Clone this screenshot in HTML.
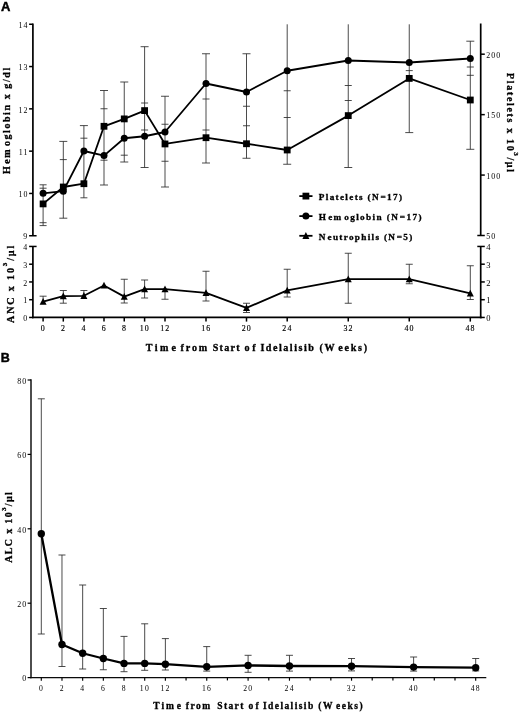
<!DOCTYPE html>
<html><head><meta charset="utf-8"><title>Figure</title>
<style>
html,body{margin:0;padding:0;background:#fff;}
svg{display:block;filter:grayscale(1);}
</style></head>
<body>
<svg width="520" height="712" viewBox="0 0 520 712">
<rect x="0" y="0" width="520" height="712" fill="#fff"/>
<line x1="43.1" y1="184.8" x2="43.1" y2="225.6" stroke="#2a2a2a" stroke-width="0.85"/>
<line x1="39.6" y1="184.8" x2="46.6" y2="184.8" stroke="#2a2a2a" stroke-width="0.85"/>
<line x1="39.6" y1="188.2" x2="46.6" y2="188.2" stroke="#2a2a2a" stroke-width="0.85"/>
<line x1="39.6" y1="222.7" x2="46.6" y2="222.7" stroke="#2a2a2a" stroke-width="0.85"/>
<line x1="39.6" y1="225.6" x2="46.6" y2="225.6" stroke="#2a2a2a" stroke-width="0.85"/>
<line x1="63.3" y1="141.4" x2="63.3" y2="218.2" stroke="#2a2a2a" stroke-width="0.85"/>
<line x1="59.3" y1="141.4" x2="67.3" y2="141.4" stroke="#2a2a2a" stroke-width="0.85"/>
<line x1="59.8" y1="159.6" x2="66.8" y2="159.6" stroke="#2a2a2a" stroke-width="0.85"/>
<line x1="59.3" y1="218.2" x2="67.3" y2="218.2" stroke="#2a2a2a" stroke-width="0.85"/>
<line x1="83.9" y1="125.6" x2="83.9" y2="197.8" stroke="#2a2a2a" stroke-width="0.85"/>
<line x1="79.9" y1="125.6" x2="87.9" y2="125.6" stroke="#2a2a2a" stroke-width="0.85"/>
<line x1="80.4" y1="138.2" x2="87.4" y2="138.2" stroke="#2a2a2a" stroke-width="0.85"/>
<line x1="80.4" y1="197.8" x2="87.4" y2="197.8" stroke="#2a2a2a" stroke-width="0.85"/>
<line x1="104.0" y1="90.5" x2="104.0" y2="185" stroke="#2a2a2a" stroke-width="0.85"/>
<line x1="100.0" y1="90.5" x2="108.0" y2="90.5" stroke="#2a2a2a" stroke-width="0.85"/>
<line x1="100.5" y1="108.75" x2="107.5" y2="108.75" stroke="#2a2a2a" stroke-width="0.85"/>
<line x1="100.5" y1="160.2" x2="107.5" y2="160.2" stroke="#2a2a2a" stroke-width="0.85"/>
<line x1="100.0" y1="185" x2="108.0" y2="185" stroke="#2a2a2a" stroke-width="0.85"/>
<line x1="124.25" y1="82" x2="124.25" y2="162" stroke="#2a2a2a" stroke-width="0.85"/>
<line x1="120.25" y1="82" x2="128.25" y2="82" stroke="#2a2a2a" stroke-width="0.85"/>
<line x1="120.75" y1="155.2" x2="127.75" y2="155.2" stroke="#2a2a2a" stroke-width="0.85"/>
<line x1="120.25" y1="162" x2="128.25" y2="162" stroke="#2a2a2a" stroke-width="0.85"/>
<line x1="144.6" y1="46.7" x2="144.6" y2="167.5" stroke="#2a2a2a" stroke-width="0.85"/>
<line x1="140.6" y1="46.7" x2="148.6" y2="46.7" stroke="#2a2a2a" stroke-width="0.85"/>
<line x1="141.1" y1="103" x2="148.1" y2="103" stroke="#2a2a2a" stroke-width="0.85"/>
<line x1="141.1" y1="130" x2="148.1" y2="130" stroke="#2a2a2a" stroke-width="0.85"/>
<line x1="140.6" y1="167.5" x2="148.6" y2="167.5" stroke="#2a2a2a" stroke-width="0.85"/>
<line x1="165.0" y1="96.25" x2="165.0" y2="187" stroke="#2a2a2a" stroke-width="0.85"/>
<line x1="161.0" y1="96.25" x2="169.0" y2="96.25" stroke="#2a2a2a" stroke-width="0.85"/>
<line x1="161.5" y1="124.25" x2="168.5" y2="124.25" stroke="#2a2a2a" stroke-width="0.85"/>
<line x1="161.5" y1="161.25" x2="168.5" y2="161.25" stroke="#2a2a2a" stroke-width="0.85"/>
<line x1="161.0" y1="187" x2="169.0" y2="187" stroke="#2a2a2a" stroke-width="0.85"/>
<line x1="206.0" y1="53.75" x2="206.0" y2="163" stroke="#2a2a2a" stroke-width="0.85"/>
<line x1="202.0" y1="53.75" x2="210.0" y2="53.75" stroke="#2a2a2a" stroke-width="0.85"/>
<line x1="202.5" y1="99" x2="209.5" y2="99" stroke="#2a2a2a" stroke-width="0.85"/>
<line x1="202.5" y1="130" x2="209.5" y2="130" stroke="#2a2a2a" stroke-width="0.85"/>
<line x1="202.0" y1="163" x2="210.0" y2="163" stroke="#2a2a2a" stroke-width="0.85"/>
<line x1="246.5" y1="53.75" x2="246.5" y2="158.25" stroke="#2a2a2a" stroke-width="0.85"/>
<line x1="242.5" y1="53.75" x2="250.5" y2="53.75" stroke="#2a2a2a" stroke-width="0.85"/>
<line x1="243.0" y1="106.25" x2="250.0" y2="106.25" stroke="#2a2a2a" stroke-width="0.85"/>
<line x1="243.0" y1="125.75" x2="250.0" y2="125.75" stroke="#2a2a2a" stroke-width="0.85"/>
<line x1="242.5" y1="158.25" x2="250.5" y2="158.25" stroke="#2a2a2a" stroke-width="0.85"/>
<line x1="287.2" y1="24.3" x2="287.2" y2="164.25" stroke="#2a2a2a" stroke-width="0.85"/>
<line x1="283.7" y1="90.75" x2="290.7" y2="90.75" stroke="#2a2a2a" stroke-width="0.85"/>
<line x1="283.7" y1="117.5" x2="290.7" y2="117.5" stroke="#2a2a2a" stroke-width="0.85"/>
<line x1="283.2" y1="164.25" x2="291.2" y2="164.25" stroke="#2a2a2a" stroke-width="0.85"/>
<line x1="348.25" y1="24.3" x2="348.25" y2="167.5" stroke="#2a2a2a" stroke-width="0.85"/>
<line x1="344.75" y1="85.5" x2="351.75" y2="85.5" stroke="#2a2a2a" stroke-width="0.85"/>
<line x1="344.75" y1="100.5" x2="351.75" y2="100.5" stroke="#2a2a2a" stroke-width="0.85"/>
<line x1="344.25" y1="167.5" x2="352.25" y2="167.5" stroke="#2a2a2a" stroke-width="0.85"/>
<line x1="409.25" y1="24.3" x2="409.25" y2="132.6" stroke="#2a2a2a" stroke-width="0.85"/>
<line x1="405.75" y1="70.6" x2="412.75" y2="70.6" stroke="#2a2a2a" stroke-width="0.85"/>
<line x1="405.25" y1="132.6" x2="413.25" y2="132.6" stroke="#2a2a2a" stroke-width="0.85"/>
<line x1="470.3" y1="41.2" x2="470.3" y2="149.3" stroke="#2a2a2a" stroke-width="0.85"/>
<line x1="466.3" y1="41.2" x2="474.3" y2="41.2" stroke="#2a2a2a" stroke-width="0.85"/>
<line x1="466.8" y1="67" x2="473.8" y2="67" stroke="#2a2a2a" stroke-width="0.85"/>
<line x1="466.8" y1="75.3" x2="473.8" y2="75.3" stroke="#2a2a2a" stroke-width="0.85"/>
<line x1="466.3" y1="149.3" x2="474.3" y2="149.3" stroke="#2a2a2a" stroke-width="0.85"/>
<line x1="43.1" y1="296.2" x2="43.1" y2="301.5" stroke="#2a2a2a" stroke-width="0.85"/>
<line x1="39.6" y1="296.2" x2="46.6" y2="296.2" stroke="#2a2a2a" stroke-width="0.85"/>
<line x1="63.3" y1="290.5" x2="63.3" y2="303.2" stroke="#2a2a2a" stroke-width="0.85"/>
<line x1="59.8" y1="290.5" x2="66.8" y2="290.5" stroke="#2a2a2a" stroke-width="0.85"/>
<line x1="59.8" y1="303.2" x2="66.8" y2="303.2" stroke="#2a2a2a" stroke-width="0.85"/>
<line x1="83.9" y1="290.5" x2="83.9" y2="297.5" stroke="#2a2a2a" stroke-width="0.85"/>
<line x1="80.4" y1="290.5" x2="87.4" y2="290.5" stroke="#2a2a2a" stroke-width="0.85"/>
<line x1="124.25" y1="279.25" x2="124.25" y2="303" stroke="#2a2a2a" stroke-width="0.85"/>
<line x1="120.75" y1="279.25" x2="127.75" y2="279.25" stroke="#2a2a2a" stroke-width="0.85"/>
<line x1="120.75" y1="303" x2="127.75" y2="303" stroke="#2a2a2a" stroke-width="0.85"/>
<line x1="144.6" y1="280" x2="144.6" y2="298" stroke="#2a2a2a" stroke-width="0.85"/>
<line x1="141.1" y1="280" x2="148.1" y2="280" stroke="#2a2a2a" stroke-width="0.85"/>
<line x1="141.1" y1="298" x2="148.1" y2="298" stroke="#2a2a2a" stroke-width="0.85"/>
<line x1="165.0" y1="288.75" x2="165.0" y2="299.25" stroke="#2a2a2a" stroke-width="0.85"/>
<line x1="161.5" y1="299.25" x2="168.5" y2="299.25" stroke="#2a2a2a" stroke-width="0.85"/>
<line x1="206.0" y1="271.25" x2="206.0" y2="301" stroke="#2a2a2a" stroke-width="0.85"/>
<line x1="202.5" y1="271.25" x2="209.5" y2="271.25" stroke="#2a2a2a" stroke-width="0.85"/>
<line x1="202.5" y1="301" x2="209.5" y2="301" stroke="#2a2a2a" stroke-width="0.85"/>
<line x1="246.5" y1="303.25" x2="246.5" y2="312.5" stroke="#2a2a2a" stroke-width="0.85"/>
<line x1="243.0" y1="303.25" x2="250.0" y2="303.25" stroke="#2a2a2a" stroke-width="0.85"/>
<line x1="243.0" y1="312.5" x2="250.0" y2="312.5" stroke="#2a2a2a" stroke-width="0.85"/>
<line x1="287.2" y1="269.25" x2="287.2" y2="297" stroke="#2a2a2a" stroke-width="0.85"/>
<line x1="283.7" y1="269.25" x2="290.7" y2="269.25" stroke="#2a2a2a" stroke-width="0.85"/>
<line x1="283.7" y1="297" x2="290.7" y2="297" stroke="#2a2a2a" stroke-width="0.85"/>
<line x1="348.25" y1="253.25" x2="348.25" y2="303.25" stroke="#2a2a2a" stroke-width="0.85"/>
<line x1="344.75" y1="253.25" x2="351.75" y2="253.25" stroke="#2a2a2a" stroke-width="0.85"/>
<line x1="344.75" y1="303.25" x2="351.75" y2="303.25" stroke="#2a2a2a" stroke-width="0.85"/>
<line x1="409.25" y1="264.25" x2="409.25" y2="283.75" stroke="#2a2a2a" stroke-width="0.85"/>
<line x1="405.75" y1="264.25" x2="412.75" y2="264.25" stroke="#2a2a2a" stroke-width="0.85"/>
<line x1="405.75" y1="283.75" x2="412.75" y2="283.75" stroke="#2a2a2a" stroke-width="0.85"/>
<line x1="470.3" y1="265.75" x2="470.3" y2="299.5" stroke="#2a2a2a" stroke-width="0.85"/>
<line x1="466.8" y1="265.75" x2="473.8" y2="265.75" stroke="#2a2a2a" stroke-width="0.85"/>
<line x1="466.8" y1="299.5" x2="473.8" y2="299.5" stroke="#2a2a2a" stroke-width="0.85"/>
<line x1="32.9" y1="23.5" x2="32.9" y2="235.9" stroke="#000" stroke-width="1.7"/>
<line x1="32.9" y1="246.5" x2="32.9" y2="318.3" stroke="#000" stroke-width="1.7"/>
<line x1="480.7" y1="23.5" x2="480.7" y2="235.5" stroke="#000" stroke-width="1.7"/>
<line x1="480.7" y1="246.4" x2="480.7" y2="318.3" stroke="#000" stroke-width="1.7"/>
<line x1="32.05" y1="317.45" x2="481.55" y2="317.45" stroke="#000" stroke-width="1.7"/>
<line x1="29.1" y1="24.25" x2="32.9" y2="24.25" stroke="#000" stroke-width="1.5"/>
<text x="28.5" y="27.95" font-family='"Liberation Serif","DejaVu Serif",serif' font-size="7.9" text-anchor="end" letter-spacing="1.1" >14</text>
<line x1="29.1" y1="66.55000000000001" x2="32.9" y2="66.55000000000001" stroke="#000" stroke-width="1.5"/>
<text x="28.5" y="70.25000000000001" font-family='"Liberation Serif","DejaVu Serif",serif' font-size="7.9" text-anchor="end" letter-spacing="1.1" >13</text>
<line x1="29.1" y1="108.85000000000001" x2="32.9" y2="108.85000000000001" stroke="#000" stroke-width="1.5"/>
<text x="28.5" y="112.55000000000001" font-family='"Liberation Serif","DejaVu Serif",serif' font-size="7.9" text-anchor="end" letter-spacing="1.1" >12</text>
<line x1="29.1" y1="151.15" x2="32.9" y2="151.15" stroke="#000" stroke-width="1.5"/>
<text x="28.5" y="154.85" font-family='"Liberation Serif","DejaVu Serif",serif' font-size="7.9" text-anchor="end" letter-spacing="1.1" >11</text>
<line x1="29.1" y1="193.45" x2="32.9" y2="193.45" stroke="#000" stroke-width="1.5"/>
<text x="28.5" y="197.14999999999998" font-family='"Liberation Serif","DejaVu Serif",serif' font-size="7.9" text-anchor="end" letter-spacing="1.1" >10</text>
<line x1="29.1" y1="235.75" x2="36.6" y2="235.75" stroke="#000" stroke-width="1.5"/>
<text x="27.1" y="239.45" font-family='"Liberation Serif","DejaVu Serif",serif' font-size="7.9" text-anchor="end" >9</text>
<line x1="29.1" y1="246.45" x2="36.6" y2="246.45" stroke="#000" stroke-width="1.5"/>
<text x="27.1" y="250.14999999999998" font-family='"Liberation Serif","DejaVu Serif",serif' font-size="7.9" text-anchor="end" >4</text>
<line x1="29.1" y1="264.2" x2="32.9" y2="264.2" stroke="#000" stroke-width="1.5"/>
<text x="27.1" y="267.9" font-family='"Liberation Serif","DejaVu Serif",serif' font-size="7.9" text-anchor="end" >3</text>
<line x1="29.1" y1="281.95" x2="32.9" y2="281.95" stroke="#000" stroke-width="1.5"/>
<text x="27.1" y="285.65" font-family='"Liberation Serif","DejaVu Serif",serif' font-size="7.9" text-anchor="end" >2</text>
<line x1="29.1" y1="299.7" x2="32.9" y2="299.7" stroke="#000" stroke-width="1.5"/>
<text x="27.1" y="303.4" font-family='"Liberation Serif","DejaVu Serif",serif' font-size="7.9" text-anchor="end" >1</text>
<line x1="29.1" y1="317.45" x2="32.9" y2="317.45" stroke="#000" stroke-width="1.5"/>
<text x="27.1" y="321.15" font-family='"Liberation Serif","DejaVu Serif",serif' font-size="7.9" text-anchor="end" >0</text>
<line x1="480.7" y1="54.19499999999999" x2="484.8" y2="54.19499999999999" stroke="#000" stroke-width="1.5"/>
<text x="486.2" y="57.894999999999996" font-family='"Liberation Serif","DejaVu Serif",serif' font-size="7.9" letter-spacing="1.1" >200</text>
<line x1="480.7" y1="114.63" x2="484.8" y2="114.63" stroke="#000" stroke-width="1.5"/>
<text x="486.2" y="118.33" font-family='"Liberation Serif","DejaVu Serif",serif' font-size="7.9" letter-spacing="1.1" >150</text>
<line x1="480.7" y1="175.065" x2="484.8" y2="175.065" stroke="#000" stroke-width="1.5"/>
<text x="486.2" y="178.765" font-family='"Liberation Serif","DejaVu Serif",serif' font-size="7.9" letter-spacing="1.1" >100</text>
<line x1="477.3" y1="235.5" x2="484.8" y2="235.5" stroke="#000" stroke-width="1.5"/>
<text x="486.2" y="239.2" font-family='"Liberation Serif","DejaVu Serif",serif' font-size="7.9" letter-spacing="1.1" >50</text>
<line x1="477.3" y1="246.45" x2="484.8" y2="246.45" stroke="#000" stroke-width="1.5"/>
<text x="486.2" y="250.14999999999998" font-family='"Liberation Serif","DejaVu Serif",serif' font-size="8.5" >4</text>
<line x1="480.7" y1="264.2" x2="484.8" y2="264.2" stroke="#000" stroke-width="1.5"/>
<text x="486.2" y="267.9" font-family='"Liberation Serif","DejaVu Serif",serif' font-size="8.5" >3</text>
<line x1="480.7" y1="281.95" x2="484.8" y2="281.95" stroke="#000" stroke-width="1.5"/>
<text x="486.2" y="285.65" font-family='"Liberation Serif","DejaVu Serif",serif' font-size="8.5" >2</text>
<line x1="480.7" y1="299.7" x2="484.8" y2="299.7" stroke="#000" stroke-width="1.5"/>
<text x="486.2" y="303.4" font-family='"Liberation Serif","DejaVu Serif",serif' font-size="8.5" >1</text>
<line x1="480.7" y1="317.45" x2="484.8" y2="317.45" stroke="#000" stroke-width="1.5"/>
<text x="486.2" y="321.15" font-family='"Liberation Serif","DejaVu Serif",serif' font-size="8.5" >0</text>
<line x1="43.1" y1="317.45" x2="43.1" y2="321.6" stroke="#000" stroke-width="1.5"/>
<text x="43.300000000000004" y="331.3" font-family='"Liberation Serif","DejaVu Serif",serif' font-size="7.9" text-anchor="middle" letter-spacing="1.1" stroke="#000" stroke-width="0.15">0</text>
<line x1="63.3" y1="317.45" x2="63.3" y2="321.6" stroke="#000" stroke-width="1.5"/>
<text x="63.5" y="331.3" font-family='"Liberation Serif","DejaVu Serif",serif' font-size="7.9" text-anchor="middle" letter-spacing="1.1" stroke="#000" stroke-width="0.15">2</text>
<line x1="83.9" y1="317.45" x2="83.9" y2="321.6" stroke="#000" stroke-width="1.5"/>
<text x="84.10000000000001" y="331.3" font-family='"Liberation Serif","DejaVu Serif",serif' font-size="7.9" text-anchor="middle" letter-spacing="1.1" stroke="#000" stroke-width="0.15">4</text>
<line x1="104.0" y1="317.45" x2="104.0" y2="321.6" stroke="#000" stroke-width="1.5"/>
<text x="104.2" y="331.3" font-family='"Liberation Serif","DejaVu Serif",serif' font-size="7.9" text-anchor="middle" letter-spacing="1.1" stroke="#000" stroke-width="0.15">6</text>
<line x1="124.25" y1="317.45" x2="124.25" y2="321.6" stroke="#000" stroke-width="1.5"/>
<text x="124.45" y="331.3" font-family='"Liberation Serif","DejaVu Serif",serif' font-size="7.9" text-anchor="middle" letter-spacing="1.1" stroke="#000" stroke-width="0.15">8</text>
<line x1="144.6" y1="317.45" x2="144.6" y2="321.6" stroke="#000" stroke-width="1.5"/>
<text x="144.79999999999998" y="331.3" font-family='"Liberation Serif","DejaVu Serif",serif' font-size="7.9" text-anchor="middle" letter-spacing="1.1" stroke="#000" stroke-width="0.15">10</text>
<line x1="165.0" y1="317.45" x2="165.0" y2="321.6" stroke="#000" stroke-width="1.5"/>
<text x="165.2" y="331.3" font-family='"Liberation Serif","DejaVu Serif",serif' font-size="7.9" text-anchor="middle" letter-spacing="1.1" stroke="#000" stroke-width="0.15">12</text>
<line x1="206.0" y1="317.45" x2="206.0" y2="321.6" stroke="#000" stroke-width="1.5"/>
<text x="206.2" y="331.3" font-family='"Liberation Serif","DejaVu Serif",serif' font-size="7.9" text-anchor="middle" letter-spacing="1.1" stroke="#000" stroke-width="0.15">16</text>
<line x1="246.5" y1="317.45" x2="246.5" y2="321.6" stroke="#000" stroke-width="1.5"/>
<text x="246.7" y="331.3" font-family='"Liberation Serif","DejaVu Serif",serif' font-size="7.9" text-anchor="middle" letter-spacing="1.1" stroke="#000" stroke-width="0.15">20</text>
<line x1="287.2" y1="317.45" x2="287.2" y2="321.6" stroke="#000" stroke-width="1.5"/>
<text x="287.4" y="331.3" font-family='"Liberation Serif","DejaVu Serif",serif' font-size="7.9" text-anchor="middle" letter-spacing="1.1" stroke="#000" stroke-width="0.15">24</text>
<line x1="348.25" y1="317.45" x2="348.25" y2="321.6" stroke="#000" stroke-width="1.5"/>
<text x="348.45" y="331.3" font-family='"Liberation Serif","DejaVu Serif",serif' font-size="7.9" text-anchor="middle" letter-spacing="1.1" stroke="#000" stroke-width="0.15">32</text>
<line x1="409.25" y1="317.45" x2="409.25" y2="321.6" stroke="#000" stroke-width="1.5"/>
<text x="409.45" y="331.3" font-family='"Liberation Serif","DejaVu Serif",serif' font-size="7.9" text-anchor="middle" letter-spacing="1.1" stroke="#000" stroke-width="0.15">40</text>
<line x1="470.3" y1="317.45" x2="470.3" y2="321.6" stroke="#000" stroke-width="1.5"/>
<text x="470.5" y="331.3" font-family='"Liberation Serif","DejaVu Serif",serif' font-size="7.9" text-anchor="middle" letter-spacing="1.1" stroke="#000" stroke-width="0.15">48</text>
<polyline fill="none" stroke="#000" stroke-width="1.8" stroke-linejoin="round" points="43.1,203.9 63.3,187 83.9,183.7 104.0,126.3 124.25,118.9 144.6,110.6 165.0,143.95 206.0,137.7 246.5,143.75 287.2,150 348.25,115.6 409.25,78.4 470.3,100"/>
<polyline fill="none" stroke="#000" stroke-width="1.8" stroke-linejoin="round" points="43.1,193.3 63.3,191.2 83.9,151 104.0,155.6 124.25,138.25 144.6,136.25 165.0,132 206.0,83.5 246.5,92 287.2,70.75 348.25,60.5 409.25,62.5 470.3,58.5"/>
<polyline fill="none" stroke="#000" stroke-width="1.8" stroke-linejoin="round" points="43.1,301.6 63.3,296.2 83.9,295.8 104.0,285.5 124.25,296.65 144.6,289.15 165.0,289.15 206.0,292.9 246.5,307.9 287.2,290.4 348.25,279.15 409.25,279.15 470.3,293.4"/>
<rect x="39.7" y="200.5" width="6.8" height="6.8" fill="#000"/>
<circle cx="43.1" cy="193.3" r="3.5" fill="#000"/>
<polygon points="43.1,297.90000000000003 46.6,304.70000000000005 39.6,304.70000000000005" fill="#000"/>
<rect x="59.9" y="183.6" width="6.8" height="6.8" fill="#000"/>
<circle cx="63.3" cy="191.2" r="3.5" fill="#000"/>
<polygon points="63.3,292.5 66.8,299.3 59.8,299.3" fill="#000"/>
<rect x="80.5" y="180.29999999999998" width="6.8" height="6.8" fill="#000"/>
<circle cx="83.9" cy="151" r="3.5" fill="#000"/>
<polygon points="83.9,292.1 87.4,298.90000000000003 80.4,298.90000000000003" fill="#000"/>
<rect x="100.6" y="122.89999999999999" width="6.8" height="6.8" fill="#000"/>
<circle cx="104.0" cy="155.6" r="3.5" fill="#000"/>
<polygon points="104.0,281.8 107.5,288.6 100.5,288.6" fill="#000"/>
<rect x="120.85" y="115.5" width="6.8" height="6.8" fill="#000"/>
<circle cx="124.25" cy="138.25" r="3.5" fill="#000"/>
<polygon points="124.25,292.95 127.75,299.75 120.75,299.75" fill="#000"/>
<rect x="141.2" y="107.19999999999999" width="6.8" height="6.8" fill="#000"/>
<circle cx="144.6" cy="136.25" r="3.5" fill="#000"/>
<polygon points="144.6,285.45 148.1,292.25 141.1,292.25" fill="#000"/>
<rect x="161.6" y="140.54999999999998" width="6.8" height="6.8" fill="#000"/>
<circle cx="165.0" cy="132" r="3.5" fill="#000"/>
<polygon points="165.0,285.45 168.5,292.25 161.5,292.25" fill="#000"/>
<rect x="202.6" y="134.29999999999998" width="6.8" height="6.8" fill="#000"/>
<circle cx="206.0" cy="83.5" r="3.5" fill="#000"/>
<polygon points="206.0,289.2 209.5,296.0 202.5,296.0" fill="#000"/>
<rect x="243.1" y="140.35" width="6.8" height="6.8" fill="#000"/>
<circle cx="246.5" cy="92" r="3.5" fill="#000"/>
<polygon points="246.5,304.2 250.0,311.0 243.0,311.0" fill="#000"/>
<rect x="283.8" y="146.6" width="6.8" height="6.8" fill="#000"/>
<circle cx="287.2" cy="70.75" r="3.5" fill="#000"/>
<polygon points="287.2,286.7 290.7,293.5 283.7,293.5" fill="#000"/>
<rect x="344.85" y="112.19999999999999" width="6.8" height="6.8" fill="#000"/>
<circle cx="348.25" cy="60.5" r="3.5" fill="#000"/>
<polygon points="348.25,275.45 351.75,282.25 344.75,282.25" fill="#000"/>
<rect x="405.85" y="75.0" width="6.8" height="6.8" fill="#000"/>
<circle cx="409.25" cy="62.5" r="3.5" fill="#000"/>
<polygon points="409.25,275.45 412.75,282.25 405.75,282.25" fill="#000"/>
<rect x="466.90000000000003" y="96.6" width="6.8" height="6.8" fill="#000"/>
<circle cx="470.3" cy="58.5" r="3.5" fill="#000"/>
<polygon points="470.3,289.7 473.8,296.5 466.8,296.5" fill="#000"/>
<line x1="299.3" y1="196.1" x2="312.5" y2="196.1" stroke="#000" stroke-width="1.8"/>
<rect x="302.5" y="192.7" width="6.8" height="6.8" fill="#000"/>
<text x="318.8" y="200.2" font-family='"Liberation Serif","DejaVu Serif",serif' font-size="9.2" font-weight="bold" textLength="83.2" lengthAdjust="spacing" stroke="#000" stroke-width="0.3">Platelets (N<tspan dx="0.6">=17)</tspan></text>
<line x1="299.3" y1="216.1" x2="312.5" y2="216.1" stroke="#000" stroke-width="1.8"/>
<circle cx="305.9" cy="216.1" r="3.5" fill="#000"/>
<text x="318.8" y="220.2" font-family='"Liberation Serif","DejaVu Serif",serif' font-size="9.2" font-weight="bold" textLength="102.7" lengthAdjust="spacing" stroke="#000" stroke-width="0.3">H<tspan dx="0.8">em</tspan><tspan dx="1.5">oglobin (N</tspan><tspan dx="0.6">=17)</tspan></text>
<line x1="299.3" y1="235.8" x2="312.5" y2="235.8" stroke="#000" stroke-width="1.8"/>
<polygon points="305.9,232.10000000000002 309.4,238.9 302.4,238.9" fill="#000"/>
<text x="318.8" y="239.9" font-family='"Liberation Serif","DejaVu Serif",serif' font-size="9.2" font-weight="bold" textLength="93.5" lengthAdjust="spacing" stroke="#000" stroke-width="0.3">N<tspan dx="0.8">eutrophils (N</tspan><tspan dx="0.6">=5)</tspan></text>
<text y="350.8" font-family='"Liberation Serif","DejaVu Serif",serif' font-size="10.1" font-weight="bold" stroke="#000" stroke-width="0.3"><tspan x="145.7" textLength="30.4" lengthAdjust="spacing">Tim<tspan dx="0.8">e</tspan></tspan> <tspan x="180.6" textLength="26.6" lengthAdjust="spacing">from</tspan> <tspan x="212.7" textLength="27.0" lengthAdjust="spacing">Start</tspan> <tspan x="244.5" textLength="11.2" lengthAdjust="spacing">of</tspan> <tspan x="260.4" textLength="53.5" lengthAdjust="spacing">Idelalisib</tspan> <tspan x="319.4" textLength="47.7" lengthAdjust="spacing">(W<tspan dx="2.6">eeks)</tspan></tspan></text>
<text x="10.1" y="174" font-family='"Liberation Serif","DejaVu Serif",serif' font-size="10.0" font-weight="bold" textLength="106.2" lengthAdjust="spacing" transform="rotate(-90 10.1 174)" stroke="#000" stroke-width="0.3">H<tspan dx="0.9">em</tspan><tspan dx="1.7">oglobin x g/dl</tspan></text>
<text x="13.8" y="322.9" font-family='"Liberation Serif","DejaVu Serif",serif' font-size="10.1" font-weight="bold" stroke="#000" stroke-width="0.3" textLength="77.2" lengthAdjust="spacing" transform="rotate(-90 13.8 322.9)">ANC x 10<tspan dy="-6.3" font-size="7">3</tspan><tspan dy="6.3">/µl</tspan></text>
<text x="507.4" y="73.1" font-family='"Liberation Serif","DejaVu Serif",serif' font-size="10.1" font-weight="bold" stroke="#000" stroke-width="0.3" textLength="99" lengthAdjust="spacing" transform="rotate(90 507.4 73.1)">Platelets x 10<tspan dy="-7" font-size="7">3</tspan><tspan dy="7">/µl</tspan></text>
<text x="0.9" y="10.6" font-family='"Liberation Sans","DejaVu Sans",sans-serif' font-size="13" font-weight="bold" stroke="#000" stroke-width="0.45">A</text>
<line x1="41.3" y1="398.8" x2="41.3" y2="634" stroke="#2a2a2a" stroke-width="0.85"/>
<line x1="37.8" y1="398.8" x2="44.8" y2="398.8" stroke="#2a2a2a" stroke-width="0.85"/>
<line x1="37.8" y1="634" x2="44.8" y2="634" stroke="#2a2a2a" stroke-width="0.85"/>
<line x1="61.98" y1="555" x2="61.98" y2="666.5" stroke="#2a2a2a" stroke-width="0.85"/>
<line x1="58.48" y1="555" x2="65.47999999999999" y2="555" stroke="#2a2a2a" stroke-width="0.85"/>
<line x1="58.48" y1="666.5" x2="65.47999999999999" y2="666.5" stroke="#2a2a2a" stroke-width="0.85"/>
<line x1="82.66" y1="585" x2="82.66" y2="669" stroke="#2a2a2a" stroke-width="0.85"/>
<line x1="79.16" y1="585" x2="86.16" y2="585" stroke="#2a2a2a" stroke-width="0.85"/>
<line x1="79.16" y1="669" x2="86.16" y2="669" stroke="#2a2a2a" stroke-width="0.85"/>
<line x1="103.34" y1="608.5" x2="103.34" y2="669.75" stroke="#2a2a2a" stroke-width="0.85"/>
<line x1="99.84" y1="608.5" x2="106.84" y2="608.5" stroke="#2a2a2a" stroke-width="0.85"/>
<line x1="99.84" y1="669.75" x2="106.84" y2="669.75" stroke="#2a2a2a" stroke-width="0.85"/>
<line x1="124.02" y1="636.4" x2="124.02" y2="671.7" stroke="#2a2a2a" stroke-width="0.85"/>
<line x1="120.52" y1="636.4" x2="127.52" y2="636.4" stroke="#2a2a2a" stroke-width="0.85"/>
<line x1="120.52" y1="671.7" x2="127.52" y2="671.7" stroke="#2a2a2a" stroke-width="0.85"/>
<line x1="144.7" y1="623.8" x2="144.7" y2="670.3" stroke="#2a2a2a" stroke-width="0.85"/>
<line x1="141.2" y1="623.8" x2="148.2" y2="623.8" stroke="#2a2a2a" stroke-width="0.85"/>
<line x1="141.2" y1="670.3" x2="148.2" y2="670.3" stroke="#2a2a2a" stroke-width="0.85"/>
<line x1="165.38" y1="638.6" x2="165.38" y2="670" stroke="#2a2a2a" stroke-width="0.85"/>
<line x1="161.88" y1="638.6" x2="168.88" y2="638.6" stroke="#2a2a2a" stroke-width="0.85"/>
<line x1="161.88" y1="670" x2="168.88" y2="670" stroke="#2a2a2a" stroke-width="0.85"/>
<line x1="206.74" y1="646.6" x2="206.74" y2="671.1" stroke="#2a2a2a" stroke-width="0.85"/>
<line x1="203.24" y1="646.6" x2="210.24" y2="646.6" stroke="#2a2a2a" stroke-width="0.85"/>
<line x1="203.24" y1="671.1" x2="210.24" y2="671.1" stroke="#2a2a2a" stroke-width="0.85"/>
<line x1="248.1" y1="655.3" x2="248.1" y2="672.3" stroke="#2a2a2a" stroke-width="0.85"/>
<line x1="244.6" y1="655.3" x2="251.6" y2="655.3" stroke="#2a2a2a" stroke-width="0.85"/>
<line x1="244.6" y1="672.3" x2="251.6" y2="672.3" stroke="#2a2a2a" stroke-width="0.85"/>
<line x1="289.46" y1="655.3" x2="289.46" y2="671.1" stroke="#2a2a2a" stroke-width="0.85"/>
<line x1="285.96" y1="655.3" x2="292.96" y2="655.3" stroke="#2a2a2a" stroke-width="0.85"/>
<line x1="285.96" y1="671.1" x2="292.96" y2="671.1" stroke="#2a2a2a" stroke-width="0.85"/>
<line x1="351.53" y1="658.5" x2="351.53" y2="670.9" stroke="#2a2a2a" stroke-width="0.85"/>
<line x1="348.03" y1="658.5" x2="355.03" y2="658.5" stroke="#2a2a2a" stroke-width="0.85"/>
<line x1="348.03" y1="670.9" x2="355.03" y2="670.9" stroke="#2a2a2a" stroke-width="0.85"/>
<line x1="413.61" y1="657" x2="413.61" y2="671.1" stroke="#2a2a2a" stroke-width="0.85"/>
<line x1="410.11" y1="657" x2="417.11" y2="657" stroke="#2a2a2a" stroke-width="0.85"/>
<line x1="410.11" y1="671.1" x2="417.11" y2="671.1" stroke="#2a2a2a" stroke-width="0.85"/>
<line x1="475.69" y1="658.5" x2="475.69" y2="670.9" stroke="#2a2a2a" stroke-width="0.85"/>
<line x1="472.19" y1="658.5" x2="479.19" y2="658.5" stroke="#2a2a2a" stroke-width="0.85"/>
<line x1="472.19" y1="670.9" x2="479.19" y2="670.9" stroke="#2a2a2a" stroke-width="0.85"/>
<line x1="31.0" y1="379.3" x2="31.0" y2="678.3" stroke="#0a0a0a" stroke-width="1.45"/>
<line x1="30.3" y1="677.6" x2="486.3" y2="677.6" stroke="#0a0a0a" stroke-width="1.45"/>
<line x1="27.6" y1="380.0" x2="31.0" y2="380.0" stroke="#000" stroke-width="1.2"/>
<text x="27.3" y="383.7" font-family='"Liberation Serif","DejaVu Serif",serif' font-size="7.9" text-anchor="end" letter-spacing="1.1" >80</text>
<line x1="27.6" y1="454.4" x2="31.0" y2="454.4" stroke="#000" stroke-width="1.2"/>
<text x="27.3" y="458.09999999999997" font-family='"Liberation Serif","DejaVu Serif",serif' font-size="7.9" text-anchor="end" letter-spacing="1.1" >60</text>
<line x1="27.6" y1="528.8" x2="31.0" y2="528.8" stroke="#000" stroke-width="1.2"/>
<text x="27.3" y="532.5" font-family='"Liberation Serif","DejaVu Serif",serif' font-size="7.9" text-anchor="end" letter-spacing="1.1" >40</text>
<line x1="27.6" y1="603.2" x2="31.0" y2="603.2" stroke="#000" stroke-width="1.2"/>
<text x="27.3" y="606.9000000000001" font-family='"Liberation Serif","DejaVu Serif",serif' font-size="7.9" text-anchor="end" letter-spacing="1.1" >20</text>
<line x1="27.6" y1="677.6" x2="31.0" y2="677.6" stroke="#000" stroke-width="1.2"/>
<text x="27.3" y="681.3000000000001" font-family='"Liberation Serif","DejaVu Serif",serif' font-size="7.9" text-anchor="end" letter-spacing="1.1" >0</text>
<line x1="41.3" y1="677.6" x2="41.3" y2="680.7" stroke="#000" stroke-width="1.15"/>
<text x="41.5" y="691.2" font-family='"Liberation Serif","DejaVu Serif",serif' font-size="7.7" text-anchor="middle" letter-spacing="1.2" >0</text>
<line x1="61.98" y1="677.6" x2="61.98" y2="680.7" stroke="#000" stroke-width="1.15"/>
<text x="62.18" y="691.2" font-family='"Liberation Serif","DejaVu Serif",serif' font-size="7.7" text-anchor="middle" letter-spacing="1.2" >2</text>
<line x1="82.66" y1="677.6" x2="82.66" y2="680.7" stroke="#000" stroke-width="1.15"/>
<text x="82.86" y="691.2" font-family='"Liberation Serif","DejaVu Serif",serif' font-size="7.7" text-anchor="middle" letter-spacing="1.2" >4</text>
<line x1="103.34" y1="677.6" x2="103.34" y2="680.7" stroke="#000" stroke-width="1.15"/>
<text x="103.54" y="691.2" font-family='"Liberation Serif","DejaVu Serif",serif' font-size="7.7" text-anchor="middle" letter-spacing="1.2" >6</text>
<line x1="124.02" y1="677.6" x2="124.02" y2="680.7" stroke="#000" stroke-width="1.15"/>
<text x="124.22" y="691.2" font-family='"Liberation Serif","DejaVu Serif",serif' font-size="7.7" text-anchor="middle" letter-spacing="1.2" >8</text>
<line x1="144.7" y1="677.6" x2="144.7" y2="680.7" stroke="#000" stroke-width="1.15"/>
<text x="144.89999999999998" y="691.2" font-family='"Liberation Serif","DejaVu Serif",serif' font-size="7.7" text-anchor="middle" letter-spacing="1.2" >10</text>
<line x1="165.38" y1="677.6" x2="165.38" y2="680.7" stroke="#000" stroke-width="1.15"/>
<text x="165.57999999999998" y="691.2" font-family='"Liberation Serif","DejaVu Serif",serif' font-size="7.7" text-anchor="middle" letter-spacing="1.2" >12</text>
<line x1="206.74" y1="677.6" x2="206.74" y2="680.7" stroke="#000" stroke-width="1.15"/>
<text x="206.94" y="691.2" font-family='"Liberation Serif","DejaVu Serif",serif' font-size="7.7" text-anchor="middle" letter-spacing="1.2" >16</text>
<line x1="248.1" y1="677.6" x2="248.1" y2="680.7" stroke="#000" stroke-width="1.15"/>
<text x="248.29999999999998" y="691.2" font-family='"Liberation Serif","DejaVu Serif",serif' font-size="7.7" text-anchor="middle" letter-spacing="1.2" >20</text>
<line x1="289.46" y1="677.6" x2="289.46" y2="680.7" stroke="#000" stroke-width="1.15"/>
<text x="289.65999999999997" y="691.2" font-family='"Liberation Serif","DejaVu Serif",serif' font-size="7.7" text-anchor="middle" letter-spacing="1.2" >24</text>
<line x1="351.53" y1="677.6" x2="351.53" y2="680.7" stroke="#000" stroke-width="1.15"/>
<text x="351.72999999999996" y="691.2" font-family='"Liberation Serif","DejaVu Serif",serif' font-size="7.7" text-anchor="middle" letter-spacing="1.2" >32</text>
<line x1="413.61" y1="677.6" x2="413.61" y2="680.7" stroke="#000" stroke-width="1.15"/>
<text x="413.81" y="691.2" font-family='"Liberation Serif","DejaVu Serif",serif' font-size="7.7" text-anchor="middle" letter-spacing="1.2" >40</text>
<line x1="475.69" y1="677.6" x2="475.69" y2="680.7" stroke="#000" stroke-width="1.15"/>
<text x="475.89" y="691.2" font-family='"Liberation Serif","DejaVu Serif",serif' font-size="7.7" text-anchor="middle" letter-spacing="1.2" >48</text>
<line x1="186.06" y1="677.6" x2="186.06" y2="680.4" stroke="#000" stroke-width="1.2"/>
<line x1="227.42" y1="677.6" x2="227.42" y2="680.4" stroke="#000" stroke-width="1.2"/>
<line x1="268.78" y1="677.6" x2="268.78" y2="680.4" stroke="#000" stroke-width="1.2"/>
<line x1="310.15" y1="677.6" x2="310.15" y2="680.4" stroke="#000" stroke-width="1.2"/>
<line x1="330.84" y1="677.6" x2="330.84" y2="680.4" stroke="#000" stroke-width="1.2"/>
<line x1="372.22" y1="677.6" x2="372.22" y2="680.4" stroke="#000" stroke-width="1.2"/>
<line x1="392.92" y1="677.6" x2="392.92" y2="680.4" stroke="#000" stroke-width="1.2"/>
<line x1="434.3" y1="677.6" x2="434.3" y2="680.4" stroke="#000" stroke-width="1.2"/>
<line x1="455.0" y1="677.6" x2="455.0" y2="680.4" stroke="#000" stroke-width="1.2"/>
<polyline fill="none" stroke="#000" stroke-width="2.3" stroke-linejoin="round" points="41.3,533.75 61.98,644.5 82.66,653.25 103.34,658.5 124.02,663.4 144.7,663.4 165.38,664.2 206.74,666.8 248.1,665.4 289.46,666 351.53,666.2 413.61,667.1 475.69,667.7"/>
<circle cx="41.3" cy="533.75" r="3.7" fill="#000"/>
<circle cx="61.98" cy="644.5" r="3.7" fill="#000"/>
<circle cx="82.66" cy="653.25" r="3.7" fill="#000"/>
<circle cx="103.34" cy="658.5" r="3.7" fill="#000"/>
<circle cx="124.02" cy="663.4" r="3.7" fill="#000"/>
<circle cx="144.7" cy="663.4" r="3.7" fill="#000"/>
<circle cx="165.38" cy="664.2" r="3.7" fill="#000"/>
<circle cx="206.74" cy="666.8" r="3.7" fill="#000"/>
<circle cx="248.1" cy="665.4" r="3.7" fill="#000"/>
<circle cx="289.46" cy="666" r="3.7" fill="#000"/>
<circle cx="351.53" cy="666.2" r="3.7" fill="#000"/>
<circle cx="413.61" cy="667.1" r="3.7" fill="#000"/>
<circle cx="475.69" cy="667.7" r="3.7" fill="#000"/>
<text y="708.8" font-family='"Liberation Serif","DejaVu Serif",serif' font-size="9.5" font-weight="bold" stroke="#000" stroke-width="0.3"><tspan x="153.3" textLength="27.7" lengthAdjust="spacing">Tim<tspan dx="0.8">e</tspan></tspan> <tspan x="185.8" textLength="24.3" lengthAdjust="spacing">from</tspan> <tspan x="217.3" textLength="26.0" lengthAdjust="spacing">Start</tspan> <tspan x="248.4" textLength="10.2" lengthAdjust="spacing">of</tspan> <tspan x="262.9" textLength="50.3" lengthAdjust="spacing">Idelalisib</tspan> <tspan x="318.3" textLength="44.4" lengthAdjust="spacing">(W<tspan dx="2.4">eeks)</tspan></tspan></text>
<text x="11.9" y="562.8" font-family='"Liberation Serif","DejaVu Serif",serif' font-size="10.0" font-weight="bold" stroke="#000" stroke-width="0.3" textLength="70.6" lengthAdjust="spacing" transform="rotate(-90 11.9 562.8)">ALC x 10<tspan dy="-6.3" font-size="7">3</tspan><tspan dy="6.3">/µl</tspan></text>
<text x="0.7" y="362.4" font-family='"Liberation Sans","DejaVu Sans",sans-serif' font-size="12.5" font-weight="bold" stroke="#000" stroke-width="0.45">B</text>
</svg>
</body></html>
